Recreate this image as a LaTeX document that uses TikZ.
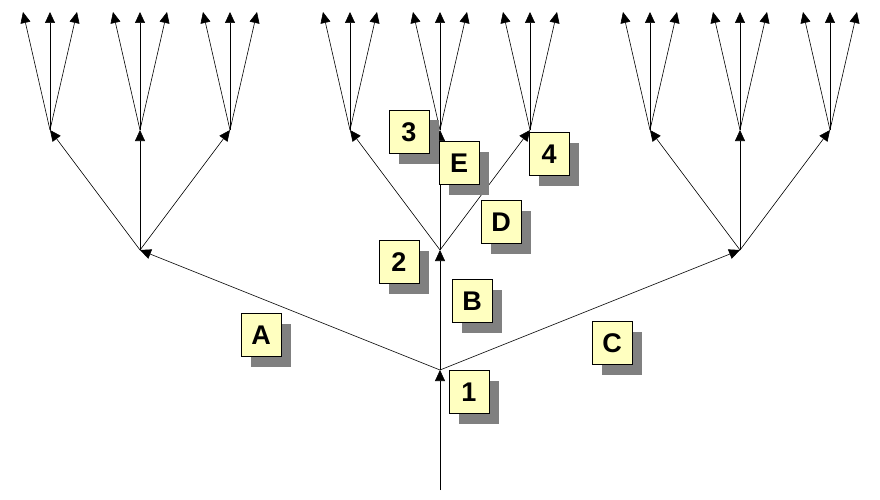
\documentclass[tikz,border=0pt]{standalone}
\usepackage{fontspec}
\setmainfont{Liberation Sans}
\usetikzlibrary{arrows.meta}
\definecolor{boxy}{HTML}{FFFFC0}
\begin{document}
\begin{tikzpicture}[x=1pt,y=-1pt,
  arr/.style={-{Triangle[length=11pt,width=10pt]},line width=0.6pt},
  lab/.style={draw=black,line width=0.6pt,fill=boxy,minimum width=40pt,minimum height=43pt,inner sep=0pt,
    font=\fontsize{27}{27}\selectfont\bfseries,
    append after command={}},
  shadow/.style={fill=black!50,minimum width=40pt,minimum height=43pt,inner sep=0pt}]
\useasboundingbox (0,0) rectangle (880,500);
\coordinate (r) at (440,490);
\coordinate (n1) at (440,370);
\draw[arr] (r) -- (n1);
\foreach \i/\x in {L/140,M/440,R/740}{
  \coordinate (n\i) at (\x,250);
  \draw[arr] (n1) -- (n\i);
  \foreach \j/\dx in {a/-90,b/0,c/90}{
    \coordinate (n\i\j) at (\x+\dx,130);
    \draw[arr] (n\i) -- (n\i\j);
    \foreach \k/\ex in {1/-27,2/0,3/27}{
      \coordinate (l\i\j\k) at (\x+\dx+\ex,12);
      \draw[arr] (n\i\j) -- (l\i\j\k);
    }
  }
}
\foreach \n/\t/\x/\y in {a/A/261/335,b1/1/469/392,b2/2/399/262,bb/B/472/301,c/C/612/343,d/D/501/222,e/E/459/163,t3/3/409/132,t4/4/549/154}{
  \node[shadow] (s\n) at (\x+10,\y+10) {};
  \node[lab] (\n) at (\x,\y) {\t};
}
\end{tikzpicture}
\end{document}
